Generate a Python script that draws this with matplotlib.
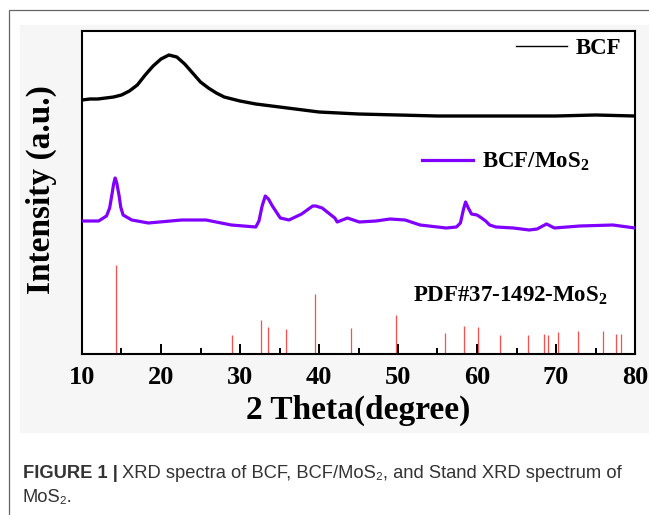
import matplotlib
matplotlib.use('Agg')
import matplotlib.pyplot as plt
from matplotlib.lines import Line2D
from matplotlib.patches import Rectangle
from matplotlib.ticker import MultipleLocator

plt.rcParams['font.family'] = ['Liberation Serif', 'DejaVu Serif']
plt.rcParams['font.weight'] = 'bold'
plt.rcParams['axes.labelweight'] = 'bold'
plt.rcParams['mathtext.fontset'] = 'custom'
plt.rcParams['mathtext.rm'] = 'Liberation Serif:bold'
plt.rcParams['mathtext.it'] = 'Liberation Serif:bold'
plt.rcParams['mathtext.bf'] = 'Liberation Serif:bold'

# BCF (amorphous hump), intensity in arbitrary units
bcf_2theta = [10, 11, 12, 13, 14, 15, 16, 17, 18, 19, 20, 21, 22, 23, 24, 25,
              26, 27, 28, 29, 30, 32, 34, 36, 38, 40, 45, 50, 55, 60, 65, 70, 75, 80]
bcf_int = [254, 255, 255, 256, 257, 259, 263, 269, 279, 288, 295, 299, 297, 290, 281, 272,
           266, 261, 257, 255, 253, 250, 248, 246, 244, 242, 240, 239, 238, 238, 238, 238, 239, 238]

# BCF/MoS2 composite
mos_2theta = [10, 12.1, 13.1, 13.5, 13.8, 14.0, 14.2, 14.4, 14.7, 14.9, 15.2, 16.3, 18.4, 22.6,
              25.7, 28.9, 32.0, 32.4, 32.8, 33.2, 33.6, 34.1, 35.1, 36.2, 37.8, 39.2, 39.6,
              40.4, 42.0, 42.3, 43.6, 45.1, 47.2, 49.0, 50.9, 52.8, 56.1, 57.4, 57.9, 58.3,
              58.55, 58.9, 59.3, 60.0, 60.4, 61.1, 61.6, 62.4, 64.6, 66.6, 67.6, 68.8, 69.8,
              73.0, 77.2, 80]
mos_int = [133, 133, 138, 146, 160, 170, 176, 171, 158, 147, 139, 134, 131, 134,
           134, 129, 127, 133, 148, 158, 155, 148, 136, 134, 140, 148, 148,
           146, 136, 132, 136, 132, 133, 135, 134, 129, 126, 127, 131, 145,
           152, 146, 140, 139, 137, 133, 129, 127, 126, 124, 125, 130, 126,
           128, 129, 126]

# PDF#37-1492 MoS2 reference lines
pdf_2theta = [14.35, 29.03, 32.65, 33.55, 35.85, 39.52, 44.08, 49.75, 55.94, 58.3,
              60.18, 62.86, 66.42, 68.42, 69.0, 70.2, 72.77, 76.0, 77.6, 78.17]
pdf_int = [89, 19, 34, 27, 25, 60, 26, 39, 21, 28,
           27, 19, 19, 20, 19, 22, 23, 23, 20, 20]

fig = plt.figure(figsize=(6.49, 5.15), dpi=100)

# frame and light backdrop of the pasted chart
fig.patches.append(Rectangle((20/649, 1-432/515), 629/649, 407/515,
                             transform=fig.transFigure, color='#f6f6f6', zorder=-2))
fig.patches.append(Rectangle((9/649, -0.05), 1.0, 1.05-10/515, transform=fig.transFigure,
                             fill=False, edgecolor='#666666', lw=0.9, zorder=-1))

ax = fig.add_axes([82/649, 1-354/515, 553/649, 323/515])
ax.set_facecolor('white')

ax.vlines(pdf_2theta, 0, pdf_int, colors='#ff4d4d', lw=0.9, zorder=1)
ax.plot(bcf_2theta, bcf_int, color='black', lw=2.4, zorder=3)
ax.plot(mos_2theta, mos_int, color='#8000ff', lw=2.3, zorder=3)

ax.set_xlim(10, 80)
ax.set_ylim(0, 323)
ax.set_xticks(range(10, 81, 10))
ax.xaxis.set_minor_locator(MultipleLocator(5))
ax.set_yticks([])
ax.tick_params(axis='x', which='major', direction='in', length=7, width=1.4,
               labelsize=19, pad=9)
ax.tick_params(axis='x', which='minor', direction='in', length=4, width=1.4)
for s in ax.spines.values():
    s.set_linewidth(1.5)

ax.set_xlabel('2 Theta(degree)', fontsize=24, fontweight='bold', labelpad=4)
ax.set_ylabel('Intensity (a.u.)', fontsize=24, fontweight='bold')
ax.yaxis.set_label_coords(-0.045, 0.51)

leg1 = ax.legend([Line2D([], [], color='black', lw=1.0)], ['BCF'], loc='center left',
                 bbox_to_anchor=(0.785, 0.947), frameon=False, fontsize=16.5,
                 handlelength=2.2, handletextpad=0.4, borderpad=0, borderaxespad=0)
ax.add_artist(leg1)
ax.legend([Line2D([], [], color='#8000ff', lw=2.3)], ['BCF/MoS$_2$'], loc='center left',
          bbox_to_anchor=(0.615, 0.595), frameon=False, fontsize=16.5,
          handlelength=2.2, handletextpad=0.4, borderpad=0, borderaxespad=0)

ax.text(0.599, 0.18, 'PDF#37-1492-MoS$_2$', transform=ax.transAxes,
        fontsize=16.5, va='center', ha='left')

# caption
cap = dict(fontsize=13.2, color='#333333', family=['Liberation Sans', 'DejaVu Sans'],
           va='baseline')
t1 = fig.text(23/649, 1-478/515, 'FIGURE 1 |', weight='bold', **cap)
fig.canvas.draw()
bb = t1.get_window_extent()
fig.text((bb.x1 + 4)/649, 1-478/515,
         'XRD spectra of BCF, BCF/MoS\u2082, and Stand XRD spectrum of', weight='normal', **cap)
fig.text(23/649, 1-502/515, 'MoS\u2082.', weight='normal', **cap)

fig.savefig('out.png', dpi=100)
